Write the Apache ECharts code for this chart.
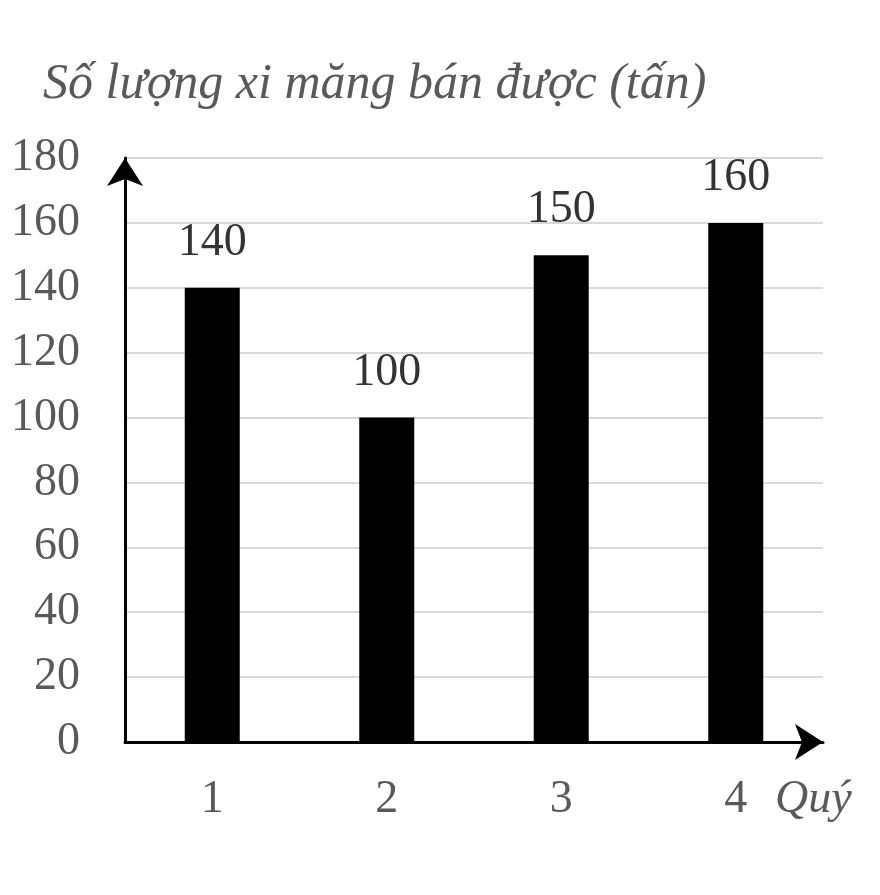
<!DOCTYPE html>
<html>
<head>
<meta charset="utf-8">
<script src="https://cdn.jsdelivr.net/npm/echarts@6/dist/echarts.min.js"></script>
<style>
  html, body { margin: 0; padding: 0; background: #fff; }
  #main { width: 880px; height: 895px; }
</style>
</head>
<body>
<div id="main"></div>
<script>
// dữ liệu
var quy = ['1', '2', '3', '4'];
var soLuong = [140, 100, 150, 160];
var yTicks = [0, 180, 20]; // min, max, interval

var font = 'Liberation Serif';
var chart = echarts.init(document.getElementById('main'));

var option = {
  animation: false,
  backgroundColor: '#fff',
  title: {
    text: 'Số lượng xi măng bán được (tấn)',
    left: 38,
    top: 55,
    textStyle: { fontFamily: font, fontStyle: 'italic', fontWeight: 'normal', fontSize: 50, color: '#595959' }
  },
  grid: { left: 125, right: 57, top: 158, bottom: 153 },
  xAxis: {
    type: 'category',
    data: quy,
    name: 'Quý',
    nameLocation: 'end',
    nameGap: -48,
    nameTextStyle: { fontFamily: font, fontStyle: 'italic', fontSize: 46, color: '#595959', align: 'left', verticalAlign: 'top', padding: [35, 0, 0, 0] },
    axisLine: { show: true, symbol: ['none', 'arrow'], symbolSize: [27, 28], symbolOffset: [0, 0], lineStyle: { color: '#000', width: 3 } },
    axisTick: { show: false },
    axisLabel: { fontFamily: font, fontSize: 46, color: '#595959', margin: 35 }
  },
  yAxis: {
    type: 'value',
    min: yTicks[0],
    max: yTicks[1],
    interval: yTicks[2],
    axisLine: { show: true, symbol: ['none', 'arrow'], symbolSize: [27, 28], symbolOffset: [0, 0], lineStyle: { color: '#000', width: 3 } },
    axisTick: { show: false },
    axisLabel: { fontFamily: font, fontSize: 46, color: '#595959', margin: 45 },
    splitLine: { lineStyle: { color: '#d9d9d9', width: 2 } }
  },
  series: [{
    type: 'bar',
    data: soLuong,
    barWidth: 55,
    itemStyle: { color: '#000' },
    label: { show: true, position: 'top', distance: 22, fontFamily: font, fontSize: 46, color: '#333' }
  }]
};
chart.setOption(option);
</script>
</body>
</html>
